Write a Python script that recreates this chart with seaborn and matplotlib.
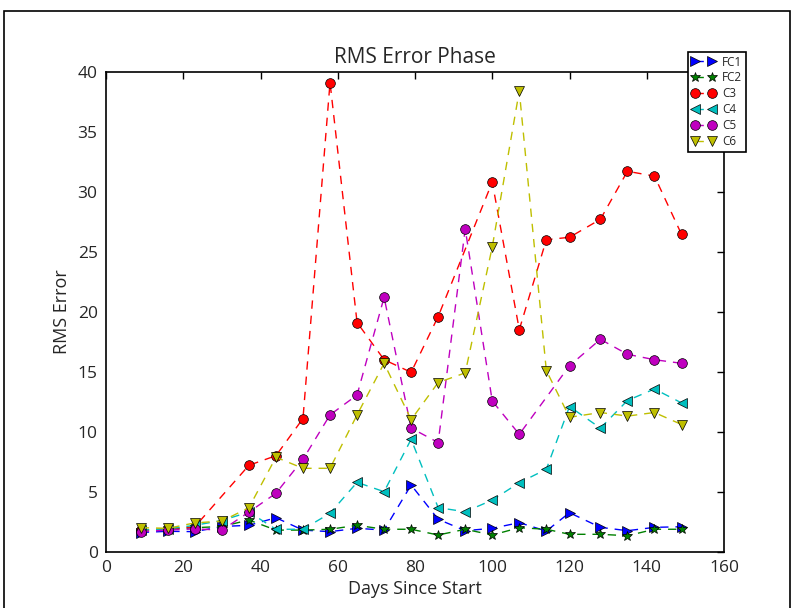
import numpy as np
import pandas as pd
import matplotlib
matplotlib.use("Agg")
import matplotlib.pyplot as plt
import seaborn as sns
from matplotlib.patches import Rectangle

# ---- data ----
days = [9, 16, 23, 30, 37, 44, 51, 58, 65, 72, 79, 86, 93, 100, 107, 114, 120, 128, 135, 142, 149]
fc1 = [1.6, 1.7, 1.67, 2.1, 2.2, 2.83, 1.8, 1.67, 1.95, 1.8, 5.56, 2.7, 1.75, 1.95, 2.42, 1.72, 3.25, 2.03, 1.75, 2.03, 2.08]
fc2 = [1.8, 1.87, 2.0, 2.1, 2.64, 1.8, 1.8, 1.87, 2.2, 1.87, 1.87, 1.39, 1.87, 1.39, 2.0, 1.87, 1.45, 1.45, 1.33, 1.87, 1.87]
c3 = [1.8, 1.9, 2.08, None, 7.2, 8.0, 11.1, 39.1, 19.1, 16.0, 14.95, 19.6, None, 30.8, 18.5, 26.0, 26.2, 27.7, 31.7, 31.3, 26.45]
c4 = [1.8, 1.9, 2.2, 2.6, 3.3, 1.87, 1.87, 3.2, 5.78, 5.0, 9.37, 3.67, 3.33, 4.3, 5.75, 6.87, 12.1, 10.3, 12.6, 13.56, 12.4]
c5 = [1.67, 1.8, 1.9, 1.8, 3.3, 4.87, 7.7, 11.4, 13.06, 21.2, 10.3, 9.1, 26.9, 12.56, 9.78, None, 15.5, 17.7, 16.45, 16.0, 15.7]
c6 = [2.0, 1.95, 2.4, 2.55, 3.67, 7.87, 6.95, 6.95, 11.4, 15.7, 11.0, 14.1, 14.9, 25.4, 38.4, 15.1, 11.2, 11.6, 11.3, 11.6, 10.6]
series_names = ["FC1", "FC2", "C3", "C4", "C5", "C6"]

series_values = [fc1, fc2, c3, c4, c5, c6]
colors = [(0, 0, 1), (0, 0.5, 0), (1, 0, 0), (0, 0.75, 0.75), (0.75, 0, 0.75), (0.75, 0.75, 0)]
markers = [">", "*", "o", "<", "o", "v"]
msizes = [7.5, 7, 7, 7.5, 7, 7.5]

sns.set_theme(style="white")
plt.rcParams["font.family"] = ["Open Sans", "DejaVu Sans"]

fig = plt.figure(figsize=(7.95, 6.08), dpi=100)
ax = fig.add_axes([106 / 795, 1 - 551.7 / 608, (724 - 106) / 795, (551.7 - 71.7) / 608])

for name, vals, col, mk, ms in zip(series_names, series_values, colors, markers, msizes):
    df = pd.DataFrame({"day": days, "val": pd.to_numeric(pd.Series(vals), errors="coerce")}).dropna()
    sns.lineplot(data=df, x="day", y="val", ax=ax, color=col, marker=mk,
                 linestyle="--", dashes=False, linewidth=1.0,
                 markersize=ms, markeredgecolor="black",
                 markeredgewidth=0.5, label=name, sort=False, estimator=None)
    ax.lines[-1].set_dashes((6, 5))

ax.set_xlim(0, 160)
ax.set_ylim(0, 40)
ax.set_xticks(range(0, 161, 20))
ax.set_yticks(range(0, 41, 5))
ax.tick_params(direction="in", top=True, right=True, length=5, width=1,
               labelsize=12.5, pad=6, color="black")
for s in ax.spines.values():
    s.set_color("black")
    s.set_linewidth(1.2)

ax.set_title("RMS Error Phase", fontsize=15, pad=6)
ax.set_xlabel("Days Since Start", fontsize=13, labelpad=3)
ax.set_ylabel("RMS Error", fontsize=13, labelpad=5)

leg = ax.legend(loc="upper left", bbox_to_anchor=(688 / 795, 1 - 52 / 608),
                bbox_transform=fig.transFigure, borderaxespad=0, fontsize=8.5,
                numpoints=2, handlelength=2.0, frameon=True, fancybox=False,
                framealpha=1, edgecolor="black", labelspacing=0.25,
                borderpad=0.3, handletextpad=0.6, markerscale=1.0)
leg.get_frame().set_linewidth(1.2)

fig.patches.append(Rectangle((4 / 795, -0.05), 786 / 795, 1.05 - 11 / 608,
                             transform=fig.transFigure, fill=False,
                             edgecolor="black", linewidth=1.2))

fig.savefig("out.png", dpi=100, facecolor="white")
